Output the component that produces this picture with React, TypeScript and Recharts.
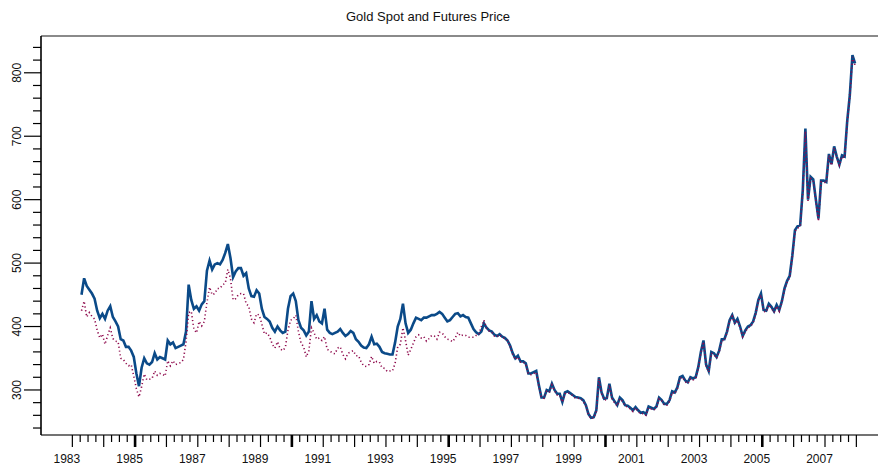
import React from "react";
import { LineChart, Line, XAxis, YAxis, ReferenceLine } from "recharts";

// Years covered (monthly observations, 1983-04 .. 2007-12)
const years = [
  1983, 1984, 1985, 1986, 1987, 1988, 1989, 1990, 1991, 1992, 1993, 1994, 1995,
  1996, 1997, 1998, 1999, 2000, 2001, 2002, 2003, 2004, 2005, 2006, 2007,
];
const firstMonth = 4; // data starts April 1983

// Gold futures price (USD/oz), monthly
const futures = [
  /*1983*/ 450, 476, 464, 458, 452, 444, 425, 413, 420,
  /*1984*/ 412, 425, 432, 415, 408, 400, 380, 378, 368, 368, 362, 352,
  /*1985*/ 326, 306, 335, 350, 342, 340, 344, 358, 348, 352, 350, 348,
  /*1986*/ 378, 372, 375, 366, 368, 370, 372, 392, 466, 442, 428, 432,
  /*1987*/ 425, 435, 440, 488, 504, 490, 498, 500, 498, 505, 516, 530,
  /*1988*/ 508, 478, 487, 492, 492, 480, 484, 460, 448, 447, 457, 452,
  /*1989*/ 428, 415, 412, 408, 398, 392, 400, 394, 390, 392, 428, 448,
  /*1990*/ 452, 440, 410, 398, 394, 386, 392, 440, 412, 418, 408, 405,
  /*1991*/ 428, 395, 390, 388, 390, 392, 396, 390, 385, 388, 393, 390,
  /*1992*/ 380, 376, 370, 367, 366, 372, 384, 372, 373, 368, 360, 358,
  /*1993*/ 357, 356, 356, 375, 400, 412, 436, 405, 390, 395, 405, 414,
  /*1994*/ 412, 410, 414, 414, 416, 418, 418, 420, 423, 420, 414, 408,
  /*1995*/ 410, 415, 420, 421, 416, 418, 415, 414, 405, 396, 391, 388,
  /*1996*/ 392, 405, 398, 394, 392, 387, 385, 388, 384, 382, 378, 370,
  /*1997*/ 358, 350, 354, 345, 345, 342, 326, 326, 328, 330, 308, 288,
  /*1998*/ 288, 300, 298, 310, 300, 294, 294, 281, 296, 298, 295, 292,
  /*1999*/ 289, 288, 287, 284, 276, 262, 256, 257, 268, 320, 296, 286,
  /*2000*/ 287, 310, 288, 282, 276, 288, 284, 276, 275, 272, 268, 273,
  /*2001*/ 268, 264, 265, 262, 274, 272, 270, 274, 288, 284, 278, 278,
  /*2002*/ 284, 298, 296, 304, 320, 322, 315, 312, 320, 318, 320, 336,
  /*2003*/ 360, 378, 340, 330, 360, 358, 352, 362, 380, 380, 392, 410,
  /*2004*/ 418, 406, 412, 400, 385, 394, 400, 402, 408, 422, 442, 452,
  /*2005*/ 426, 425, 436, 431, 424, 434, 426, 440, 460, 472, 480, 512,
  /*2006*/ 552, 558, 560, 615, 712, 600, 636, 632, 600, 570, 630, 630,
  /*2007*/ 628, 672, 656, 684, 668, 655, 670, 668, 724, 765, 828, 815,
];

// Gold spot price (USD/oz), monthly
const spot = [
  /*1983*/ 425, 440, 415, 422, 416, 412, 394, 382, 388,
  /*1984*/ 372, 386, 398, 381, 377, 376, 350, 348, 342, 338, 340, 322,
  /*1985*/ 302, 289, 305, 325, 316, 317, 318, 330, 323, 326, 325, 322,
  /*1986*/ 346, 338, 346, 340, 342, 343, 348, 376, 422, 424, 396, 390,
  /*1987*/ 408, 401, 408, 438, 462, 450, 452, 460, 460, 466, 468, 490,
  /*1988*/ 476, 442, 444, 450, 452, 452, 436, 432, 412, 406, 420, 418,
  /*1989*/ 404, 388, 390, 384, 372, 366, 376, 365, 362, 367, 394, 410,
  /*1990*/ 412, 418, 392, 374, 368, 352, 362, 398, 390, 380, 382, 378,
  /*1991*/ 384, 364, 362, 358, 357, 366, 368, 356, 349, 358, 360, 362,
  /*1992*/ 354, 354, 344, 338, 337, 340, 353, 342, 345, 344, 335, 334,
  /*1993*/ 329, 330, 330, 342, 368, 372, 398, 378, 355, 364, 374, 384,
  /*1994*/ 387, 382, 384, 377, 381, 386, 385, 380, 391, 390, 384, 380,
  /*1995*/ 379, 376, 382, 391, 385, 387, 386, 383, 383, 383, 386, 387,
  /*1996*/ 400, 410, 397, 393, 391, 385, 384, 387, 383, 381, 378, 369,
  /*1997*/ 356, 348, 352, 344, 344, 341, 325, 324, 326, 328, 306, 288,
  /*1998*/ 287, 298, 296, 308, 299, 292, 292, 281, 294, 296, 294, 291,
  /*1999*/ 287, 287, 286, 282, 275, 261, 255, 256, 266, 318, 294, 284,
  /*2000*/ 285, 308, 286, 280, 275, 286, 282, 275, 273, 270, 266, 272,
  /*2001*/ 266, 262, 263, 260, 272, 270, 268, 273, 286, 283, 276, 276,
  /*2002*/ 282, 296, 294, 302, 318, 320, 313, 310, 318, 316, 318, 334,
  /*2003*/ 358, 376, 338, 328, 358, 356, 350, 360, 378, 378, 390, 408,
  /*2004*/ 416, 404, 410, 398, 384, 392, 398, 400, 406, 420, 440, 450,
  /*2005*/ 424, 423, 434, 429, 422, 432, 424, 438, 458, 470, 478, 510,
  /*2006*/ 550, 555, 558, 612, 708, 598, 633, 630, 598, 566, 628, 628,
  /*2007*/ 626, 670, 654, 682, 666, 654, 668, 666, 722, 762, 825, 812,
];

// Axis labels
const xYearLabels = ["1983", "1985", "1987", "1989", "1991", "1993", "1995", "1997", "1999", "2001", "2003", "2005", "2007"];
const yLabels = [300, 400, 500, 600, 700, 800];

// Build table: decimal-year time for each month (mid-month)
const data: { t: number; fut: number; spot: number }[] = [];
{
  let i = 0;
  years.forEach((y) => {
    const m0 = y === years[0] ? firstMonth : 1;
    for (let m = m0; m <= 12; m++) {
      if (i < futures.length) {
        data.push({ t: y + (m - 0.5) / 12, fut: futures[i], spot: spot[i] });
      }
      i++;
    }
  });
}

const xTicks: number[] = [];
for (let y = 1983; y <= 2008; y++) {
  xTicks.push(y);
  if (y < 2008) {
    xTicks.push(y + 0.25, y + 0.5, y + 0.75);
  }
}
const yTicks: number[] = [];
for (let v = 240; v <= 840; v += 20) yTicks.push(v);

const FONT = "'Liberation Sans', Arial, Helvetica, sans-serif";

const XTick = (props: any) => {
  const { x, y, payload } = props;
  const v = payload.value as number;
  const yr = Math.round(v);
  const isYear = Math.abs(v - yr) < 1e-6;
  const thick = isYear && yr % 5 === 0;
  const len = isYear ? 12 : 7;
  return (
    <g>
      <line x1={x} x2={x} y1={y} y2={y + len} stroke="#000" strokeWidth={thick ? 2.6 : 1.2} />
      {isYear && xYearLabels.includes(String(yr)) ? (
        <text x={x - 5.5} y={y + 27.5} textAnchor="middle" fontSize={12} fontFamily={FONT} fill="#111">
          {String(yr)}
        </text>
      ) : null}
    </g>
  );
};

const YTick = (props: any) => {
  const { x, y, payload } = props;
  const v = payload.value as number;
  const major = yLabels.includes(v);
  const len = major ? 17 : 8;
  return (
    <g>
      <line x1={x - len} x2={x} y1={y} y2={y} stroke="#000" strokeWidth={1.2} />
      {major ? (
        <text
          x={21.5}
          y={y}
          transform={`rotate(-90, 21.5, ${y})`}
          textAnchor="middle"
          fontSize={12}
          fontFamily={FONT}
          fill="#111"
        >
          {String(v)}
        </text>
      ) : null}
    </g>
  );
};

export default function App() {
  return (
    <div style={{ position: "absolute", left: 0, top: 0, width: 878, height: 469, background: "#fff", overflow: "hidden" }}>
      <div
        style={{
          position: "absolute",
          left: 0,
          width: 856,
          top: 10,
          textAlign: "center",
          fontFamily: FONT,
          fontSize: 13,
          lineHeight: "14px",
          color: "#111",
        }}
      >
        Gold Spot and Futures Price
      </div>
      <LineChart width={878} height={469} data={data} margin={{ top: 36, right: 0, bottom: 0, left: 0 }}>
        <XAxis
          dataKey="t"
          type="number"
          domain={[1982, 2008.69]}
          allowDataOverflow
          ticks={xTicks}
          interval={0}
          tick={<XTick />}
          tickLine={false}
          tickSize={0}
          tickMargin={0}
          height={34}
          axisLine={{ stroke: "#444", strokeWidth: 1.5 }}
        />
        <YAxis
          type="number"
          domain={[229, 858]}
          allowDataOverflow
          ticks={yTicks}
          interval={0}
          tick={<YTick />}
          tickLine={false}
          tickSize={0}
          tickMargin={0}
          width={41}
          axisLine={{ stroke: "#000", strokeWidth: 1.6 }}
        />
        <ReferenceLine y={858} stroke="#8a8a8a" strokeWidth={2} />
        <Line
          dataKey="fut"
          type="linear"
          stroke="#0b4a88"
          strokeWidth={2.6}
          dot={false}
          isAnimationActive={false}
        />
        <Line
          dataKey="spot"
          type="linear"
          stroke="#8e0a4c"
          strokeWidth={1.6}
          strokeDasharray="1.2 2.6"
          dot={false}
          isAnimationActive={false}
        />
      </LineChart>
    </div>
  );
}
